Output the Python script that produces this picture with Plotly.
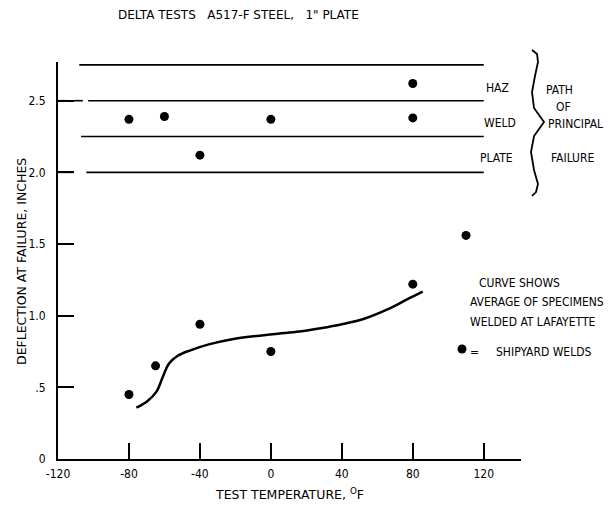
import plotly.graph_objects as go

# Delta test results, A517-F steel, 1" plate
temp_weld = [-80, -65, -40, 0, 80, 110]
defl_weld = [0.45, 0.65, 0.94, 0.75, 1.22, 1.56]

temp_path = [-80, -60, -40, 0, 80, 80]
defl_path = [2.37, 2.39, 2.12, 2.37, 2.62, 2.38]

# average curve of specimens welded at Lafayette
curve_temp = [-75.8, -69.5, -64.5, -61.0, -57.5, -52.5, -45.0, -35.0, -21.0, 1.0,
              16.0, 28.0, 40.0, 53.0, 66.0, 77.0, 85.6]
curve_defl = [0.358, 0.405, 0.47, 0.57, 0.665, 0.72, 0.76, 0.80, 0.838, 0.871,
              0.889, 0.912, 0.94, 0.98, 1.045, 1.115, 1.168]

# failure-path band boundaries (inches) and their labels
band_levels = [2.0, 2.25, 2.5, 2.75]
band_labels = ["PLATE", "WELD", "HAZ"]

x_ticks = [-120, -80, -40, 0, 40, 80, 120]
x_ticktext = ["-120", "-80", "-40", "0", "40", "80", "120"]
y_ticks = [0, 0.5, 1.0, 1.5, 2.0, 2.5]
y_ticktext = ["0", ".5", "1.0", "1.5", "2.0", "2.5"]

W, H = 608, 511
ML, MR, MT, MB = 58, 87, 62, 52
PW, PH = W - ML - MR, H - MT - MB

FONT = "DejaVu Sans Condensed, DejaVu Sans, sans-serif"
FONT_WIDE = "DejaVu Sans, sans-serif"


def px(xp):
    return (xp - ML) / PW


def py(yp):
    return (H - MB - yp) / PH


def label(text, xp, yp, angle=0, family=FONT, size=12):
    fig.add_annotation(x=px(xp), y=py(yp), xref="paper", yref="paper", text=text,
                       showarrow=False, xanchor="center", yanchor="middle",
                       textangle=angle,
                       font=dict(family=family, size=size, color="black"))


fig = go.Figure()

fig.add_trace(go.Scatter(
    x=curve_temp, y=curve_defl, mode="lines",
    line=dict(color="black", width=2.5, shape="spline", smoothing=1.0),
    hoverinfo="skip", showlegend=False,
))
fig.add_trace(go.Scatter(
    x=temp_weld, y=defl_weld, mode="markers",
    marker=dict(color="black", size=9), showlegend=False,
))
fig.add_trace(go.Scatter(
    x=temp_path, y=defl_path, mode="markers",
    marker=dict(color="black", size=9), showlegend=False,
))

# horizontal band lines (some broken near the axis)
segments = {
    2.0: [(-120, -111), (-104, 120)],
    2.25: [(-107, 120)],
    2.5: [(-120, -115), (-111, -106), (-103, 120)],
    2.75: [(-108, 120)],
}
for lvl in band_levels:
    for x0, x1 in segments[lvl]:
        fig.add_shape(type="line", xref="x", yref="y", x0=x0, x1=x1, y0=lvl, y1=lvl,
                      line=dict(color="black", width=1.6))

# band labels
label_px = {"HAZ": (497, 88), "WELD": (500, 123), "PLATE": (496, 158)}
for lab in band_labels:
    label(lab, *label_px[lab])

# brace grouping the failure paths
brace_pts = [(532, 50), (537, 54), (538, 62), (535, 76), (532, 92), (534, 108),
             (544, 122), (534, 136), (531, 152), (534, 170), (538, 184), (536, 192),
             (532, 196)]
path = "M " + " L ".join(f"{px(a):.4f},{py(b):.4f}" for a, b in brace_pts)
fig.add_shape(type="path", xref="paper", yref="paper", path=path,
              line=dict(color="black", width=1.8))

for t, xp, yp in [("PATH", 559, 90), ("OF", 563, 107), ("PRINCIPAL", 575, 124),
                  ("FAILURE", 572, 158)]:
    label(t, xp, yp)

for t, xp, yp in [("CURVE SHOWS", 519, 283), ("AVERAGE OF SPECIMENS", 537, 302),
                  ("WELDED AT LAFAYETTE", 532, 322), ("=", 474, 352),
                  ("SHIPYARD WELDS", 544, 352)]:
    label(t, xp, yp)

# key dot for shipyard welds
fig.add_shape(type="circle", xref="paper", yref="paper", xsizemode="pixel",
              ysizemode="pixel", xanchor=px(462), yanchor=py(349),
              x0=-4.5, x1=4.5, y0=-4.5, y1=4.5,
              fillcolor="black", line=dict(color="black", width=0))

# titles
label('DELTA TESTS&nbsp;&nbsp;&nbsp;A517-F STEEL,&nbsp;&nbsp;&nbsp;1" PLATE', 238, 15,
      family=FONT_WIDE, size=12)
label("TEST TEMPERATURE, <sup>O</sup>F", 289, 494, family=FONT_WIDE, size=12.5)
label("DEFLECTION AT FAILURE, INCHES", 21, 262, angle=-90, family=FONT_WIDE, size=12.5)

fig.update_xaxes(range=[-120, 141], showline=True, linecolor="black", linewidth=2,
                 showgrid=False, zeroline=False, ticks="inside", ticklen=16,
                 tickwidth=2, tickcolor="black", tickvals=x_ticks, ticktext=x_ticktext,
                 tickfont=dict(family=FONT, size=12, color="black"),
                 ticklabelstandoff=3)
fig.update_yaxes(range=[0, 2.77], showline=True, linecolor="black", linewidth=2,
                 showgrid=False, zeroline=False, ticks="inside", ticklen=16,
                 tickwidth=2, tickcolor="black", tickvals=y_ticks, ticktext=y_ticktext,
                 tickfont=dict(family=FONT, size=12, color="black"),
                 ticklabelstandoff=8)

fig.update_layout(width=W, height=H, margin=dict(l=ML, r=MR, t=MT, b=MB),
                  plot_bgcolor="white", paper_bgcolor="white", showlegend=False)

fig.write_html("out.html")
